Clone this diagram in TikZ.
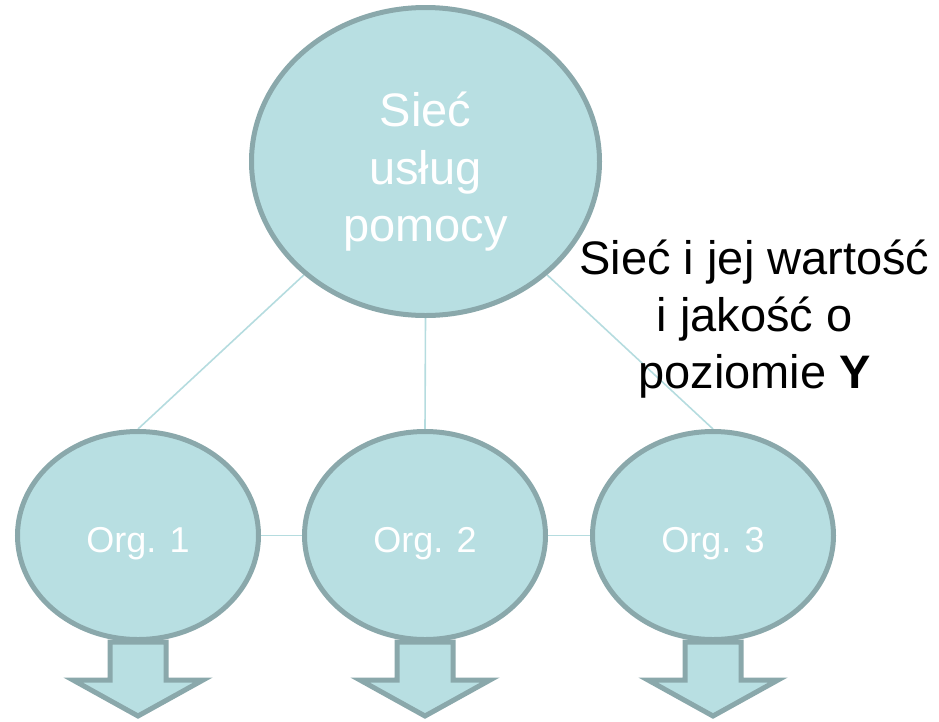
\documentclass[tikz,border=0pt]{standalone}
\usepackage{fontspec}
\setmainfont{Liberation Sans}
\usetikzlibrary{shapes.geometric,backgrounds}
\definecolor{bubblefill}{HTML}{B8DFE2}
\definecolor{rim}{HTML}{8AA8AB}
\definecolor{linkline}{HTML}{B5DCDF}
\begin{document}
\begin{tikzpicture}[x=1pt,y=-1pt,
  bubble/.style={ellipse, draw=rim, fill=bubblefill, line width=5pt,
    inner sep=0pt, text=white, align=center},
  hubbubble/.style={bubble, minimum width=348pt, minimum height=308pt},
  orgbubble/.style={bubble, minimum width=241pt, minimum height=208pt,
    font=\fontsize{36}{43}\selectfont, text height=33pt, text depth=0pt},
  hubtext/.style={align=center, text=white, inner sep=0pt,
    font=\fontsize{47}{57.5}\selectfont},
  link/.style={draw=linkline, line width=1.6pt},
  downarrow/.style={draw=rim, fill=bubblefill, line width=5pt, line join=miter},
  note/.style={align=center, text=black, inner sep=0pt,
    font=\fontsize{47}{57}\selectfont}]
\useasboundingbox (0,0) rectangle (939,721);

% hub and the three member organisations
\node[hubbubble] (hub) at (425.5,161.5) {};
\node[hubtext] (hublabel) at (425.5,172) {Sieć\\usług\\pomocy};
\node[orgbubble] (o1) at (138,535.5) {Org. 1};
\node[orgbubble] (o2) at (425,535.5) {Org. 2};
\node[orgbubble] (o3) at (713,535.5) {Org. 3};

% connectors, kept behind the bubbles
\begin{scope}[on background layer]
  \draw[link] (hub.223) -- (o1.north);
  \draw[link] (hub.south) -- (o2.north);
  \draw[link] (hub.317) -- (o3.north);
  \draw[link] (o1.east) -- (o2.west);
  \draw[link] (o2.east) -- (o3.west);
\end{scope}

% outgoing arrows below each organisation
\foreach \o in {o1,o2,o3}{
  \draw[downarrow] (\o.south) ++(-28,0) -- ++(0,38) -- ++(-37,0)
    -- ++(65,36) -- ++(65,-36) -- ++(-37,0) -- ++(0,-38) -- cycle;
}

% caption beside the hub
\node[note] (caption) at (754.5,319) {Sieć i jej wartość\\i jakość o\\poziomie \textbf{Y}};
\end{tikzpicture}
\end{document}
